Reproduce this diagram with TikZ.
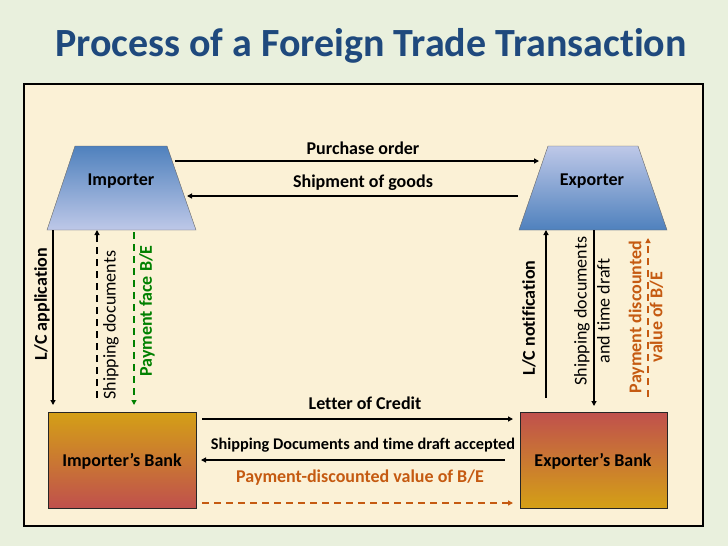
\documentclass[tikz,border=0pt]{standalone}
\usepackage{fontspec}
\setmainfont[Ligatures=NoCommon]{Carlito}
\usetikzlibrary{arrows.meta}
\definecolor{outerbg}{RGB}{233,240,221}
\definecolor{innerbg}{RGB}{251,241,214}
\definecolor{titleblue}{RGB}{31,73,125}
\definecolor{dblue}{RGB}{79,129,189}
\definecolor{lblue}{RGB}{190,200,232}
\definecolor{gold}{RGB}{212,160,22}
\definecolor{brick}{RGB}{192,80,77}
\definecolor{rust}{RGB}{197,90,17}
\definecolor{dgreen}{RGB}{0,128,0}
\tikzset{
  lbl/.style={font=\fontsize{18}{20}\selectfont\bfseries, inner sep=0pt},
  vlbl/.style={font=\fontsize{18}{22}\selectfont, inner sep=0pt, rotate=90, align=center},
  flow/.style={line width=1.2pt, -{Triangle[length=5pt,width=5pt]}},
  dflow/.style={flow, dash pattern=on 7pt off 5pt},
  bank/.style={draw=black!85, line width=0.9pt},
}
\begin{document}
\begin{tikzpicture}[x=1pt,y=-1pt]
\fill[outerbg] (0,0) rectangle (728,546);
\useasboundingbox (0,0) rectangle (728,546);
\node[text=titleblue, font=\fontsize{40}{44}\selectfont\bfseries] (title) at (371,46) {Process of a Foreign Trade Transaction};
\draw[fill=innerbg, line width=1.3pt] (24,84) rectangle (703,526);

% trapezoids
\shade[top color=dblue, bottom color=lblue, draw=black!60, line width=0.4pt] (75,146) -- (167,146) -- (196,230) -- (47,230) -- cycle;
\shade[top color=lblue, bottom color=dblue, draw=black!60, line width=0.4pt] (548,146) -- (638,146) -- (667,230) -- (519,230) -- cycle;
\node[lbl] (imp) at (121,181) {Importer};
\node[lbl] (exp) at (592,181) {Exporter};

% banks
\shade[top color=gold, bottom color=brick] (48,412) rectangle (196,508);
\draw[bank] (48,412) rectangle (196,508);
\shade[top color=brick, bottom color=gold] (520,412) rectangle (667,508);
\draw[bank] (520,412) rectangle (667,508);
\node[lbl] (ibank) at (122,461) {Importer’s Bank};
\node[lbl] (ebank) at (593,461) {Exporter’s Bank};

% top horizontal
\coordinate (po1) at (175,161); \coordinate (po2) at (539,161);
\draw[flow] (po1) -- (po2);
\node[lbl] (pol) at (363,148) {Purchase order};
\coordinate (sg1) at (518,196); \coordinate (sg2) at (187,196);
\draw[flow] (sg1) -- (sg2);
\node[lbl] (sgl) at (363,183) {Shipment of goods};

% bottom horizontal
\coordinate (lc1) at (202,419); \coordinate (lc2) at (513,419);
\draw[flow] (lc1) -- (lc2);
\node[lbl] (lcl) at (365,403) {Letter of Credit};
\coordinate (sd1) at (505,460); \coordinate (sd2) at (201,460);
\draw[flow] (sd1) -- (sd2);
\node[lbl, font=\fontsize{16.3}{18}\selectfont\bfseries] (sdl) at (363,445) {Shipping Documents and time draft accepted};
\coordinate (pd1) at (202,503); \coordinate (pd2) at (513,503);
\draw[dflow, rust] (pd1) -- (pd2);
\node[lbl, text=rust] (pdl) at (360,478) {Payment-discounted value of B/E};

% importer side verticals
\coordinate (a1) at (53,230); \coordinate (a2) at (53,405);
\draw[flow] (a1) -- (a2);
\node[vlbl, font=\fontsize{18}{22}\selectfont\bfseries] (al) at (42,304) {L/C application};
\coordinate (b1) at (97,398); \coordinate (b2) at (97,230);
\draw[dflow] (b1) -- (b2);
\node[vlbl] (bl) at (111,325) {Shipping documents};
\coordinate (c1) at (134,232); \coordinate (c2) at (134,405);
\draw[dflow, dgreen] (c1) -- (c2);
\node[vlbl, font=\fontsize{18}{22}\selectfont\bfseries, text=dgreen] (cl) at (147,311) {Payment face B/E};

% exporter side verticals
\coordinate (d1) at (546,398); \coordinate (d2) at (546,230);
\draw[flow] (d1) -- (d2);
\node[vlbl, font=\fontsize{18}{22}\selectfont\bfseries] (dl) at (529,318) {L/C notification};
\coordinate (e1) at (594,230); \coordinate (e2) at (594,406);
\draw[flow] (e1) -- (e2);
\node[vlbl, font=\fontsize{18}{23}\selectfont] (el) at (592,311) {Shipping documents\\and time draft};
\coordinate (f1) at (648,397); \coordinate (f2) at (648,238);
\draw[dflow, rust] (f1) -- (f2);
\node[vlbl, font=\fontsize{18}{21}\selectfont\bfseries, text=rust] (fl) at (646,317) {Payment discounted\\value of B/E};
\end{tikzpicture}
\end{document}
